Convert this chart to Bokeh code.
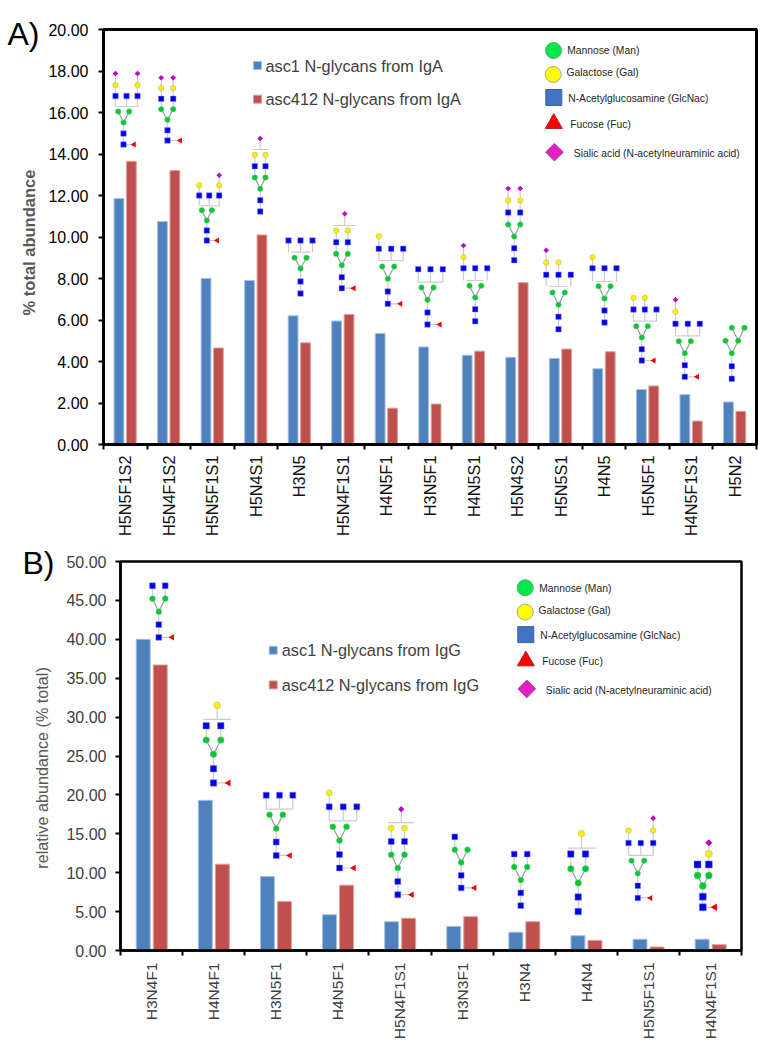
from math import pi
from bokeh.embed import file_html
from bokeh.resources import INLINE
from bokeh.models import Range1d, FixedTicker, NumeralTickFormatter, ColumnDataSource
from bokeh.plotting import figure
from bokeh.core.properties import value

# ---------------- data ----------------
cats_a = ["H5N5F1S2", "H5N4F1S2", "H5N5F1S1", "H5N4S1", "H3N5", "H5N4F1S1", "H4N5F1", "H3N5F1",
          "H4N5S1", "H5N4S2", "H5N5S1", "H4N5", "H5N5F1", "H4N5F1S1", "H5N2"]
asc1_iga = [11.85, 10.75, 8.0, 7.9, 6.2, 5.95, 5.35, 4.7, 4.3, 4.2, 4.15, 3.65, 2.65, 2.4, 2.05]
asc412_iga = [13.65, 13.2, 4.65, 10.1, 4.9, 6.27, 1.75, 1.95, 4.5, 7.8, 4.6, 4.47, 2.82, 1.13, 1.6]
ticks_a = [0, 2, 4, 6, 8, 10, 12, 14, 16, 18, 20]

cats_b = ["H3N4F1", "H4N4F1", "H3N5F1", "H4N5F1", "H5N4F1S1", "H3N3F1", "H3N4", "H4N4", "H5N5F1S1", "H4N4F1S1"]
asc1_igg = [40.0, 19.3, 9.5, 4.6, 3.7, 3.1, 2.35, 1.9, 1.45, 1.45]
asc412_igg = [36.7, 11.1, 6.3, 8.4, 4.15, 4.35, 3.7, 1.3, 0.45, 0.75]
ticks_b = [0, 5, 10, 15, 20, 25, 30, 35, 40, 45, 50]

key_labels = ["Mannose (Man)", "Galactose (Gal)", "N-Acetylglucosamine (GlcNac)", "Fucose (Fuc)",
              "Sialic acid (N-acetylneuraminic acid)"]

# ---------------- glycan cartoons (page pixel layout) ----------------
# core=(x, y bottom GN, y GN, y Man); arms=(x1, x2, y); fuc=x; cols=[(x, [(kind, y), ...])]
# bracket=(y, x0, x1); top=(kind, x, y)
def G(core, arms, cols, fuc=None, bracket=None, top=None, size=5.5):
    return dict(core=core, arms=arms, cols=cols, fuc=fuc, bracket=bracket, top=top, size=size)

glycans_a = [
    G((123, 144, 133, 122), (117.7, 128.7, 111), [(115, [("GN", 95.5), ("Gal", 84.5), ("Sia", 73)]), (126, [("GN", 95.5)]), (137, [("GN", 95.5), ("Gal", 84.5), ("Sia", 73)])], 133.5, (106, 115.7, 136.7)),
    G((167, 140, 129.7, 119.3), (160.7, 172.7, 108.7), [(160.7, [("GN", 98.3), ("Gal", 87.7), ("Sia", 77.3)]), (172.7, [("GN", 98.3), ("Gal", 87.7), ("Sia", 77.3)])], 179.7),
    G((206.3, 240, 230, 220), (201.3, 211.3, 209.7), [(198.7, [("GN", 195), ("Gal", 184.7)]), (208.7, [("GN", 195)]), (218.7, [("GN", 195), ("Gal", 184.7), ("Sia", 174.7)])], 216.7, (205.3, 199, 219)),
    G((259.7, 211, 199.7, 188.3), (254.3, 265, 177), [(254.3, [("GN", 165.7), ("Gal", 154.3)]), (265, [("GN", 165.7), ("Gal", 154.3)])], None, (149, 251.7, 267.7), ("Sia", 259.7, 138)),
    G((300, 293, 281, 268), (294, 306, 257.3), [(288, [("GN", 240)]), (300, [("GN", 240)]), (312, [("GN", 240)])], None, (251.7, 291, 310)),
    G((341.3, 287.7, 276.7, 264.7), (335.7, 347.3, 253.3), [(335.7, [("GN", 241.7), ("Gal", 230)]), (347.3, [("GN", 241.7), ("Gal", 230)])], 353.3, (225, 333, 355), ("Sia", 344.3, 213.3)),
    G((387.3, 303.3, 291, 278.3), (381.7, 393.7, 266), [(378.3, [("GN", 248.3), ("Gal", 235.7)]), (390.7, [("GN", 248.3)]), (402.7, [("GN", 248.3)])], 400, (260, 379, 403)),
    G((427, 324, 312, 299.3), (421, 433, 287), [(417.7, [("GN", 268.7)]), (430, [("GN", 268.7)]), (442.3, [("GN", 268.7)])], 439.3, (281.7, 417.7, 442.3)),
    G((474.7, 320.7, 308.7, 297), (469, 480.7, 285.3), [(463, [("GN", 267.7), ("Gal", 256.7), ("Sia", 245)]), (474.7, [("GN", 267.7)]), (486.7, [("GN", 267.7)])], None, (280, 466, 483)),
    G((513.7, 259.7, 247.7, 236), (507.7, 519.7, 224), [(507.7, [("GN", 212), ("Gal", 200), ("Sia", 188)]), (519.7, [("GN", 212), ("Gal", 200), ("Sia", 188)])]),
    G((558, 328.7, 316.3, 304.3), (552, 564.3, 292), [(545.7, [("GN", 274.3), ("Gal", 262), ("Sia", 249.7)]), (558, [("GN", 274.3), ("Gal", 262)]), (570.3, [("GN", 274.3)])], None, (286, 549, 567)),
    G((604, 322, 310, 298), (598, 610, 285.7), [(592, [("GN", 267.7), ("Gal", 256.7)]), (604, [("GN", 267.7)]), (616, [("GN", 267.7)])], None, (281, 595, 613)),
    G((641.3, 360, 348.7, 337), (635.7, 647.3, 325.7), [(633, [("GN", 309), ("Gal", 297.3)]), (644.3, [("GN", 309), ("Gal", 297.3)]), (656, [("GN", 309)])], 653.3, (320.7, 633, 656)),
    G((684.3, 376.3, 364.7, 352.7), (678.3, 690.3, 340.7), [(675, [("GN", 323.3), ("Gal", 311.3), ("Sia", 299.3)]), (687.3, [("GN", 323.3)]), (699.3, [("GN", 323.3)])], 696.7, (335.3, 676, 699)),
    G((731.3, 378.3, 365.7, 352.7), (725, 737.7, 340.3), []),
]
h5n2_extra = [(731.3, 327.3), (744, 327.3)]

glycans_b = [
    G((158.3, 637, 624.3, 611.3), (152, 164.7, 598.3), [(152, [("GN", 585.3)]), (164.7, [("GN", 585.3)])], 171.7, size=5.8),
    G((213, 783, 768.7, 754.3), (205.7, 220.3, 740), [(205.7, [("GN", 725.7)]), (220.3, [("GN", 725.7)])], 228, (719.3, 202.7, 230.7), ("Gal", 216.7, 705), size=6.5),
    G((275.7, 855.7, 842.3, 828.7), (269, 282.3, 815), [(265.7, [("GN", 795.3)]), (279, [("GN", 795.3)]), (292.3, [("GN", 795.3)])], 289.3, (809.3, 265.7, 292.3), size=6),
    G((339, 868.3, 854.7, 840.7), (332.3, 346, 827), [(328.7, [("GN", 807), ("Gal", 793)]), (342.7, [("GN", 807)]), (356.3, [("GN", 807)])], 353.3, (821, 329, 356), size=6),
    G((397.3, 895, 881.7, 868.3), (390.7, 404, 855), [(390.7, [("GN", 841.7), ("Gal", 828.3)]), (404, [("GN", 841.7), ("Gal", 828.3)])], 411.3, (822.7, 387.3, 413.3), ("Sia", 400.7, 809.3), size=6),
    G((460.7, 888.3, 875.7, 862.7), (454.3, 467, 850), [(454.3, [("GN", 837)])], 474, size=5.8),
    G((520.3, 906, 893.3, 880.3), (513.7, 526.7, 867.3), [(513.7, [("GN", 854.3)]), (526.7, [("GN", 854.3)])], size=5.8),
    G((577.7, 912, 897.3, 883.3), (570.3, 585, 869), [(570.3, [("GN", 854.3)]), (585, [("GN", 854.3)])], None, (848.3, 567.3, 595), ("Gal", 581, 833.7), size=6.5),
    G((637.3, 898.3, 886, 873.7), (631, 643.7, 861), [(628, [("GN", 843.3), ("Gal", 830.7)]), (640.3, [("GN", 843.3)]), (652.7, [("GN", 843.3), ("Gal", 830.7), ("Sia", 818.3)])], 650, (855.7, 628.3, 652.5), size=5.5),
    G((702.3, 907.7, 897, 886.3), (697, 708.3, 875.7), [(697, [("GN", 864.7)]), (708.3, [("GN", 864.7), ("Gal", 854), ("Sia", 843)])], 714.3, size=7),
]

COL_BLUE, COL_BLUE_E = "#4f81bd", "#a5c0e0"
COL_RED, COL_RED_E = "#c0504d", "#e0a09e"
TXT = "Liberation Sans"
FIG_W = 764


def make_panel(fig_top, fig_h, left, right, top, bottom, cats, s1, s2, yticks, ymax, off1, off2, bw, glycans,
               ylabel, ylabel_style, ylabel_pos, tick_color, tick_standoff, x_size, x_color,
               x_standoff, leg_names, leg_rows, key_rows, key_syms, panel_label, outline, extra=None):
    n = len(cats)
    fw, fh = right - left, bottom - top
    X = lambda px: (px - left) * n / fw
    Y = lambda py: (bottom - py) * ymax / fh
    p = figure(width=FIG_W, height=fig_h, x_range=Range1d(0, n), y_range=Range1d(0, ymax),
               min_border_left=left, min_border_right=FIG_W - right,
               min_border_top=top - fig_top, min_border_bottom=fig_h - (bottom - fig_top),
               toolbar_location=None, output_backend="svg", background_fill_color="white")
    p.grid.visible = False
    p.outline_line_color = "black"
    p.outline_line_width = outline

    # bars
    xs = [i + 0.5 for i in range(n)]
    p.vbar(x=[x + off1 for x in xs], top=s1, width=bw, bottom=0, fill_color=COL_BLUE, line_color=COL_BLUE_E, line_width=1)
    p.vbar(x=[x + off2 for x in xs], top=s2, width=bw, bottom=0, fill_color=COL_RED, line_color=COL_RED_E, line_width=1)

    # axes
    xa = p.xaxis[0]
    xa.ticker = FixedTicker(ticks=xs, minor_ticks=list(range(n + 1)))
    xa.major_label_overrides = {x: c for x, c in zip(xs, cats)}
    xa.major_label_orientation = pi / 2
    xa.major_tick_line_color = None
    xa.major_tick_out = 0
    xa.major_tick_in = 0
    xa.minor_tick_line_color = "black"
    xa.minor_tick_line_width = 2
    xa.minor_tick_out = 5
    xa.minor_tick_in = 0
    xa.major_label_standoff = x_standoff
    xa.major_label_text_font = TXT
    xa.major_label_text_font_size = x_size
    xa.major_label_text_color = x_color
    xa.axis_line_width = outline
    xa.axis_line_color = "black"

    ya = p.yaxis[0]
    ya.ticker = FixedTicker(ticks=yticks)
    ya.formatter = NumeralTickFormatter(format="0.00")
    ya.minor_tick_line_color = None
    ya.major_tick_line_color = "black"
    ya.major_tick_line_width = 2
    ya.major_tick_out = 5
    ya.major_tick_in = 0
    ya.major_label_standoff = tick_standoff
    ya.major_label_text_font = TXT
    ya.major_label_text_font_size = "16px"
    ya.major_label_text_color = tick_color
    ya.axis_line_width = outline
    ya.axis_line_color = "black"

    # y title (text glyph so it can sit off-centre like the reference)
    st_size, st_style, st_color = ylabel_style
    p.text([X(ylabel_pos[0])], [Y(ylabel_pos[1])], text=[ylabel], angle=pi / 2, level="overlay",
           text_font=value(TXT), text_font_size=st_size, text_font_style=st_style, text_color=st_color,
           text_align="center", text_baseline="middle")

    # glycans
    seg = {"x0": [], "y0": [], "x1": [], "y1": [], "c": []}
    def link(a, b, c="#cccccc"):
        seg["x0"].append(X(a[0])); seg["y0"].append(Y(a[1]))
        seg["x1"].append(X(b[0])); seg["y1"].append(Y(b[1])); seg["c"].append(c)
    nodes = {k: {"x": [], "y": [], "s": []} for k in ("GN", "Man", "Gal", "Sia", "Fuc")}
    def node(k, x, y, s):
        nodes[k]["x"].append(X(x)); nodes[k]["y"].append(Y(y)); nodes[k]["s"].append(s)
    for g in glycans:
        cx, yb, yg, ym = g["core"]
        a1, a2, ay = g["arms"]
        s = g["size"]
        link((cx, yb), (cx, ym))
        link((cx, ym), (a1, ay), "#9a9a9a")
        link((cx, ym), (a2, ay), "#9a9a9a")
        node("GN", cx, yb, s); node("GN", cx, yg, s); node("Man", cx, ym, s)
        node("Man", a1, ay, s); node("Man", a2, ay, s)
        if g["fuc"]:
            link((cx, yb), (g["fuc"], yb))
            node("Fuc", g["fuc"], yb, s + 0.5)
        br = g["bracket"]
        below = br is not None and g["cols"] and br[0] > g["cols"][0][1][0][1]
        for x, stack in g["cols"]:
            ytop = stack[-1][1]
            if below:
                link((x, ytop), (x, br[0]))
            else:
                link((x, ytop), (x, ay))
            for k, y in stack:
                node(k, x, y, s)
        if br:
            link((br[1], br[0]), (br[2], br[0]))
        if g["top"]:
            k, x, y = g["top"]
            link((x, y), (x, br[0]))
            node(k, x, y, s)
    if extra:
        g = glycans[-1]
        a2, ay, s = g["arms"][1], g["arms"][2], g["size"]
        for (x, y) in extra:
            link((a2, ay), (x, y), "#9a9a9a")
            node("Man", x, y, s)
    p.segment("x0", "y0", "x1", "y1", source=ColumnDataSource(seg), line_color="c", line_width=1.2)
    p.scatter("x", "y", size="s", source=ColumnDataSource(nodes["GN"]), marker="square", fill_color="#0000e8", line_color="#8888ee", line_width=0.5)
    p.scatter("x", "y", size="s", source=ColumnDataSource(nodes["Man"]), marker="circle", fill_color="#00c832", line_color="#80c890", line_width=0.5)
    p.scatter("x", "y", size="s", source=ColumnDataSource(nodes["Gal"]), marker="circle", fill_color="#ffee00", line_color="#b0b080", line_width=0.5)
    sia = nodes["Sia"]
    sia["s"] = [v * 0.72 for v in sia["s"]]
    p.scatter("x", "y", size="s", source=ColumnDataSource(sia), marker="square", angle=pi / 4, fill_color="#c000c0", line_color=None)
    p.scatter("x", "y", size="s", source=ColumnDataSource(nodes["Fuc"]), marker="triangle", angle=pi / 2, fill_color="#f00000", line_color=None)

    # series legend
    for name, color, edge, (sx, sy, tx) in zip(leg_names, (COL_BLUE, COL_RED), (COL_BLUE_E, COL_RED_E), leg_rows):
        p.scatter([X(sx)], [Y(sy)], size=8, marker="square", fill_color=color, line_color=edge, line_width=1)
        p.text([X(tx)], [Y(sy)], text=[name], text_font=value(TXT), text_font_size="16.3px", text_color="#404040",
               text_align="left", text_baseline="middle")

    # sugar key
    for lab, (mx, my, tx, ty), (marker, msize, fill, edge, ang) in zip(key_labels, key_rows, key_syms):
        p.scatter([X(mx)], [Y(my)], size=msize, marker=marker, angle=ang, fill_color=fill, line_color=edge, line_width=1)
        p.text([X(tx)], [Y(ty)], text=[lab], text_font=value(TXT), text_font_size="10.3px", text_color="#262626",
               text_align="left", text_baseline="middle")

    # panel tag
    p.text([X(panel_label[1])], [Y(panel_label[2])], text=[panel_label[0]], level="overlay", text_font=value(TXT),
           text_font_size="32px", text_color="black", text_align="left", text_baseline="alphabetic")
    return p


key_syms = [("circle", 16, "#00e84a", "#50b070", 0),
            ("circle", 16, "#ffff00", "#a8a8a8", 0),
            ("square", 16, "#4472c4", "#3a62a8", 0),
            ("triangle", 17, "#ff0000", "#b02020", 0),
            ("square", 12.5, "#e020c0", "#b040a0", pi / 4)]

pa = make_panel(0, 539, 103, 756, 29, 444, cats_a, asc1_iga, asc412_iga, ticks_a, 20, -0.145, 0.14, 0.225, glycans_a,
                "% total abundance", ("16.5px", "bold", "#595959"), (28.5, 242), "black", 10, "16.3px", "#111111", 6,
                ["asc1 N-glycans from IgA", "asc412 N-glycans from IgA"],
                [(257, 65, 265), (257, 98.7, 265)],
                [(553, 50, 566.7, 50), (552.7, 74, 566, 72.3), (553.3, 97, 567.7, 97.7), (553.3, 123, 569.7, 124), (554, 151.7, 573.3, 152.7)],
                key_syms, ("A)", 7, 33), 3, extra=h5n2_extra)

pb = make_panel(539, 503, 120, 741, 561, 951, cats_b, asc1_igg, asc412_igg, ticks_b, 50, -0.134, 0.14, 0.225, glycans_b,
                "relative abundance (% total)", ("16.2px", "normal", "#595959"), (41, 768), "#404040", 9, "15.5px", "#404040", 7,
                ["asc1 N-glycans from IgG", "asc412 N-glycans from IgG"],
                [(272.7, 650, 281.3), (272.7, 684.7, 281.3)],
                [(524.7, 587.3, 538.7, 587.7), (524.7, 611.7, 538, 610), (525.3, 634.3, 539.7, 635), (525.3, 660.7, 541.7, 661.3), (526.3, 688.7, 545.3, 690)],
                key_syms, ("B)", 22, 563), 2.5)

open("out.html", "w").write(file_html([pa, pb], INLINE))
